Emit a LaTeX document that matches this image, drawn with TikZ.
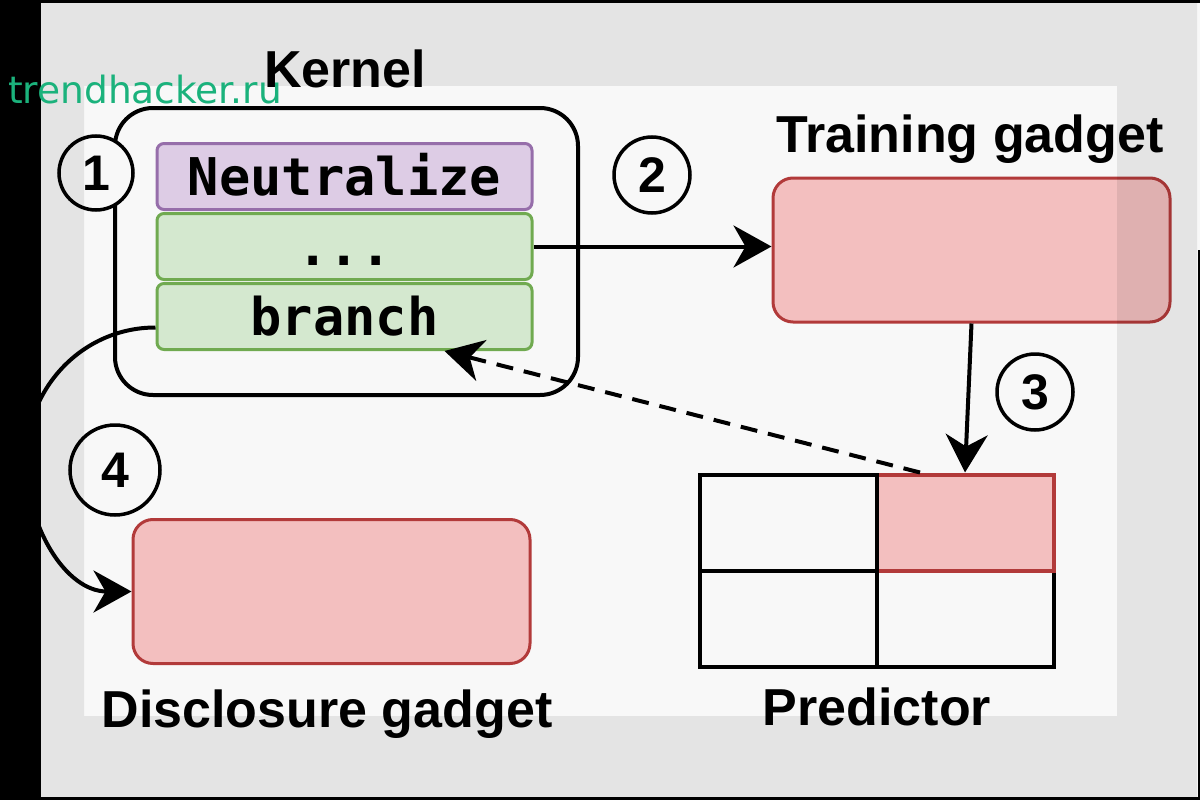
\documentclass[tikz,border=0pt]{standalone}
\usepackage{fontspec}
\setmainfont{Liberation Sans}
\setmonofont{DejaVu Sans Mono}
\newfontfamily\wmfont{DejaVu Sans}
\usepackage{tikz}
\usetikzlibrary{arrows.meta, positioning}
\definecolor{paper}{RGB}{248,248,248}
\definecolor{gadgetpink}{RGB}{243,191,191}
\definecolor{gadgetred}{RGB}{178,58,58}
\definecolor{neutralfill}{RGB}{221,204,229}
\definecolor{neutraldraw}{RGB}{150,110,170}
\definecolor{instrfill}{RGB}{212,232,207}
\definecolor{instrdraw}{RGB}{112,170,80}
\definecolor{wmgreen}{RGB}{27,178,124}

\begin{document}
\begin{tikzpicture}[x=1pt, y=-1pt,
        gadget/.style={rectangle, draw=gadgetred, fill=gadgetpink, line width=3pt, rounded corners=20pt, minimum width=397pt, minimum height=144pt},
        instr/.style={rectangle, line width=3pt, rounded corners=7pt, minimum width=375pt, minimum height=66pt, inner sep=0pt, text height=38pt, text depth=0pt, font=\fontsize{52}{60}\selectfont\ttfamily\bfseries},
        neutral/.style={instr, draw=neutraldraw, fill=neutralfill},
        plain/.style={instr, draw=instrdraw, fill=instrfill},
        kernelbox/.style={rectangle, draw, line width=4pt, rounded corners=38pt, minimum width=463pt, minimum height=287pt},
        stepnum/.style={circle, draw, line width=3.5pt, fill=paper, inner sep=0pt, minimum size=74pt, font=\fontsize{50}{56}\selectfont\bfseries},
        title/.style={anchor=base, inner sep=0pt, font=\fontsize{52}{60}\selectfont\bfseries},
        cell/.style={rectangle, draw, line width=4pt, minimum width=177pt, minimum height=96pt},
        line/.style={draw, line width=4pt, -{Stealth[length=38pt, width=42pt, inset=12pt]}}]

        \useasboundingbox (0,0) rectangle (1200,800);
        \fill[paper] (0,0) rectangle (1200,800);

        % kernel
        \node [kernelbox] (kernel) at (346.5,251.5) {};
        \node [neutral] (neutralize) at (344.5,176.5) {Neutralize};
        \node [plain, below=1pt of neutralize] (dots) {...};
        \node [plain, below=1pt of dots] (branch) {branch};
        \node [title] (kernellabel) at (345,88) {Kernel};

        % gadgets
        \node [gadget] (training) at (971.5,250) {};
        \node [title] (traininglabel) at (970,152) {Training gadget};
        \node [gadget] (disclosure) at (331.5,591.5) {};
        \node [title] (disclosurelabel) at (327,727) {Disclosure gadget};

        % predictor
        \node [cell] (br) at (965,618.5) {};
        \node [cell, draw=gadgetred, fill=gadgetpink] (tr) at (965,522.5) {};
        \node [cell] (tl) at (788.5,522.5) {};
        \node [cell] (bl) at (788.5,618.5) {};
        \node [title] (predictorlabel) at (877,725) {Predictor};

        % steps
        \node [stepnum] (n1) at (96,173) {1};
        \node [stepnum, minimum size=76pt] (n2) at (652,175) {2};
        \node [stepnum, minimum size=76pt] (n3) at (1035,392) {3};
        \node [stepnum, minimum size=90pt] (n4) at (115,470) {4};

        \coordinate (bend) at (26,460);
        \path [line] (dots.east) -- (dots.east -| training.west);
        \path [line] (training.south) -- (tr.north);
        \path [line, dash pattern=on 17pt off 11pt] ([xshift=-45pt]tr.north) -- ([xshift=100pt]branch.south);
        \path [line] ([yshift=-11pt]branch.west) to[out=180, in=90] (bend) to[out=-90, in=180] (disclosure.west);

        % frame
        \fill [black, opacity=0.08, even odd rule] (41,3) rectangle (1197,797) (84,86) rectangle (1117,716);
        \fill [black] (0,0) rectangle (41,800);
        \fill [black] (0,0) rectangle (1200,3);
        \fill [black] (0,797) rectangle (1200,800);
        \fill [black] (1198,250) rectangle (1200,800);

        \node [anchor=base west, inner sep=0pt, text=wmgreen, font=\wmfont\fontsize{37.5}{40}\selectfont] (mark) at (8,103) {trendhacker.ru};
    \end{tikzpicture}
\end{document}
